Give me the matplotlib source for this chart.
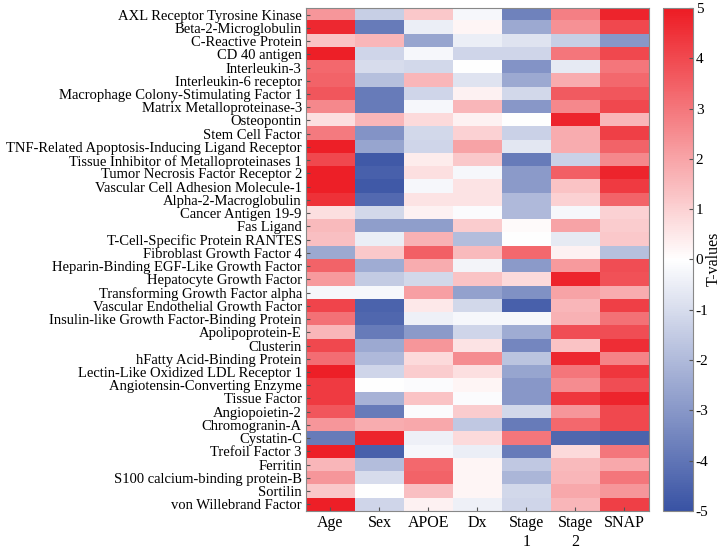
import numpy as np
import matplotlib
matplotlib.use('Agg')
import matplotlib.pyplot as plt
from matplotlib.colors import LinearSegmentedColormap

plt.rcParams['font.family'] = ['Liberation Serif', 'DejaVu Serif']
plt.rcParams['axes.unicode_minus'] = False

proteins = [
    "AXL Receptor Tyrosine Kinase", "Beta-2-Microglobulin", "C-Reactive Protein",
    "CD 40 antigen", "Interleukin-3", "Interleukin-6 receptor",
    "Macrophage Colony-Stimulating Factor 1", "Matrix Metalloproteinase-3",
    "Osteopontin", "Stem Cell Factor",
    "TNF-Related Apoptosis-Inducing Ligand Receptor",
    "Tissue Inhibitor of Metalloproteinases 1", "Tumor Necrosis Factor Receptor 2",
    "Vascular Cell Adhesion Molecule-1", "Alpha-2-Macroglobulin",
    "Cancer Antigen 19-9", "Fas Ligand", "T-Cell-Specific Protein RANTES",
    "Fibroblast Growth Factor 4", "Heparin-Binding EGF-Like Growth Factor",
    "Hepatocyte Growth Factor", "Transforming Growth Factor alpha",
    "Vascular Endothelial Growth Factor",
    "Insulin-like Growth Factor-Binding Protein", "Apolipoprotein-E",
    "Clusterin", "hFatty Acid-Binding Protein",
    "Lectin-Like Oxidized LDL Receptor 1", "Angiotensin-Converting Enzyme",
    "Tissue Factor", "Angiopoietin-2", "Chromogranin-A", "Cystatin-C",
    "Trefoil Factor 3", "Ferritin", "S100 calcium-binding protein-B",
    "Sortilin", "von Willebrand Factor",
]
factors = ["Age", "Sex", "APOE", "Dx", "Stage\n1", "Stage\n2", "SNAP"]

# t-values per column (top row first)
age = [2.3, 4.7, 1.3, 4.9, 3.3, 3.4, 3.7, 2.6, 0.7, 2.9,
       4.9, 4.0, 4.9, 4.9, 4.5, 0.7, 1.5, 1.4, -2.5, 3.4,
       2.2, -0.2, 4.1, 3.1, 1.6, 4.0, 3.2, 4.9, 4.3, 4.3,
       3.7, 2.3, -3.8, 4.9, 1.6, 2.3, 1.2, 4.9]
sex = [-1.4, -3.8, 1.6, -1.2, -1.0, -1.8, -3.8, -3.8, 1.6, -3.1,
       -2.6, -4.8, -4.6, -4.8, -4.3, -1.1, -2.8, -0.5, 1.2, -2.4,
       -1.5, -0.2, -4.5, -4.4, -3.8, -2.5, -2.0, -1.2, 0.0, -2.2,
       -3.8, 1.8, 4.8, -4.6, -1.9, -1.0, 0.0, -1.2]
apoe = [1.2, -0.5, -2.6, -0.2, -1.1, 1.6, -1.2, -0.2, 0.8, -1.1,
        -1.2, 0.4, 0.7, -0.2, 0.6, 0.3, -2.8, 1.7, 3.5, 1.8,
        -1.1, 2.1, 0.5, -0.4, -2.9, 2.3, 0.8, 1.1, -0.1, 1.3,
        -0.1, 1.9, -0.4, -0.2, 3.3, 3.4, 1.4, 0.3]
dx = [-0.2, 0.2, -0.5, -1.2, 0.0, -0.8, 0.3, 1.6, 0.3, 1.0,
      2.0, 1.2, -0.2, 0.6, 0.6, -0.1, 1.1, -1.9, 1.5, -0.3,
      1.3, -2.7, -1.1, -0.2, -1.2, 0.6, 2.5, 0.7, 0.2, -0.1,
      1.1, -1.6, 0.8, -0.5, 0.2, 0.2, 0.2, -0.4]
stage1 = [-3.6, -2.5, -0.8, -1.2, -3.1, -2.5, -1.1, -3.0, 0.0, -1.3,
          -0.7, -3.8, -2.9, -2.9, -2.0, -2.0, 0.1, 0.0, 3.3, -2.9,
          0.8, -3.2, -4.6, -0.2, -2.4, -3.5, -1.7, -2.6, -3.0, -3.0,
          -1.1, -3.8, 3.0, -3.8, -1.6, -2.1, -1.1, -1.2]
stage2 = [2.8, 2.4, -1.4, 3.0, -0.6, 1.8, 3.6, 2.6, 4.8, 1.8,
          1.8, -1.3, 3.5, 1.3, 1.0, -0.2, 2.0, -0.6, 0.3, 2.2,
          4.8, 2.0, 1.6, 1.7, 3.9, 1.3, 4.7, 3.0, 2.5, 4.4,
          2.3, 3.3, -4.4, 0.8, 1.5, 1.6, 1.9, 1.6]
snap = [4.8, 4.0, -3.0, 4.0, 3.0, 3.3, 3.7, 4.0, 1.6, 4.2,
        3.4, 2.6, 4.8, 4.3, 3.4, 1.0, 1.1, 1.2, -1.8, 3.9,
        3.8, 1.8, 4.2, 3.1, 3.9, 4.6, 2.7, 4.4, 3.9, 4.8,
        4.0, 4.0, -4.5, 3.0, 1.9, 3.0, 2.3, 4.2]

tvals = np.column_stack([age, sex, apoe, dx, stage1, stage2, snap])

cmap = LinearSegmentedColormap.from_list('bwr2', ['#3953A4', '#FFFFFF', '#ED1C24'])

fig = plt.figure(figsize=(7.25, 5.5), dpi=100)
ax = fig.add_axes([0.422, 0.0709, 0.473, 0.9146])
cax = fig.add_axes([0.9145, 0.0709, 0.0414, 0.9146])

im = ax.imshow(tvals, cmap=cmap, vmin=-5, vmax=5, aspect='auto',
               interpolation='nearest')
ax.set_xticks(range(len(factors)))
ax.set_xticklabels(factors, fontsize=11.5, linespacing=1.25)
ax.set_yticks(range(len(proteins)))
ax.set_yticklabels(proteins, fontsize=10.5)
ax.tick_params(direction='in', length=3, color='#555555', pad=3)
for s in ax.spines.values():
    s.set_color('#888888')

cb = fig.colorbar(im, cax=cax, ticks=range(-5, 6))
cb.ax.tick_params(direction='in', length=3, color='#555555', labelsize=11, pad=2)
cb.outline.set_edgecolor('#888888')
fig.text(0.984, 0.53, 'T-values', rotation=90, ha='center', va='center', fontsize=11.5)

fig.savefig('out.png', dpi=100)
